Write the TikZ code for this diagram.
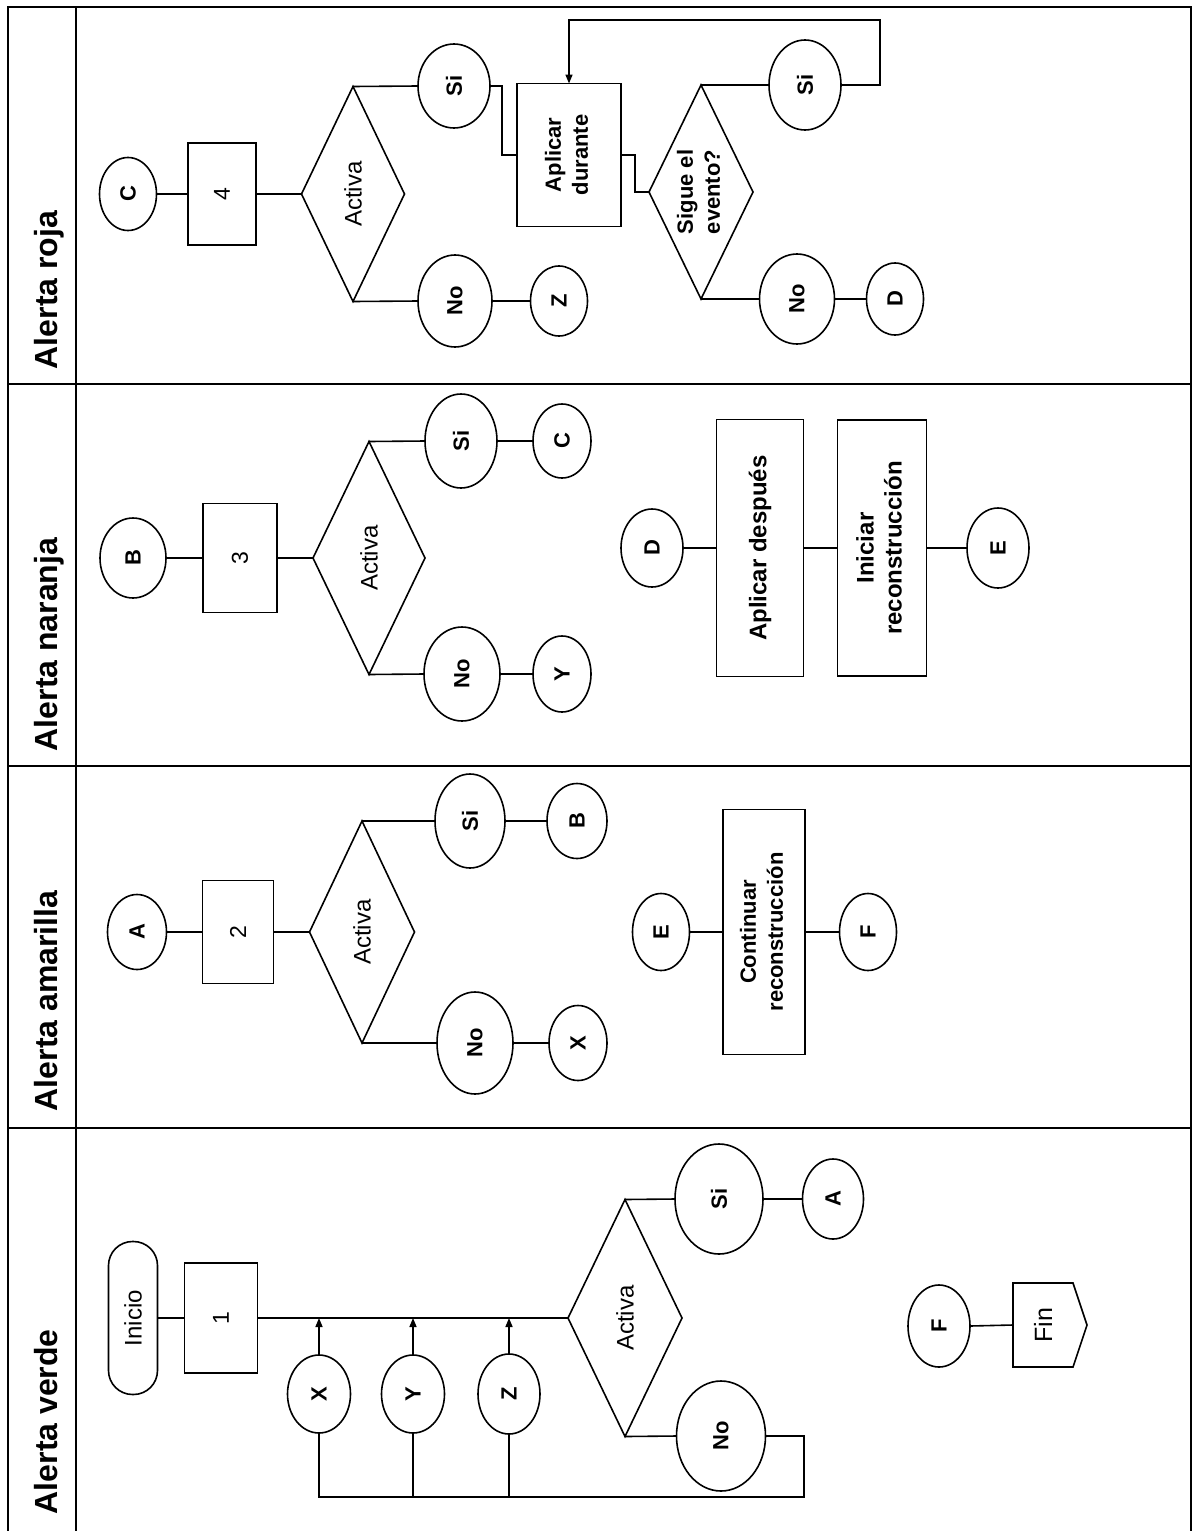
\documentclass[tikz,border=0pt]{standalone}
\usepackage{fontspec}
\setmainfont{Liberation Sans}
\usepackage{graphicx}
\usetikzlibrary{shapes.geometric,arrows.meta}
\newcommand{\rt}[1]{\rotatebox{90}{#1}}
\newcommand{\rtt}[2]{\rotatebox{90}{\begin{tabular}{@{}c@{}}#1\\#2\end{tabular}}}
\begin{document}
\begin{tikzpicture}[x=1pt,y=-1pt,line width=1.6pt,
  sz/.style 2 args={minimum width=#1pt,minimum height=#2pt},
  lbl/.style={font=\fontsize{22}{27}\selectfont\bfseries},
  biglbl/.style={font=\fontsize{24}{28}\selectfont\bfseries},
  ell/.style={draw,ellipse,inner sep=0pt,outer sep=0pt,lbl},
  proc/.style={draw,rectangle,inner sep=0pt,outer sep=0pt,lbl},
  num/.style={draw,rectangle,inner sep=0pt,outer sep=0pt,font=\fontsize{23}{27}\selectfont},
  dec/.style={draw,diamond,inner sep=0pt,outer sep=0pt,font=\fontsize{24}{28}\selectfont},
  lanetitle/.style={rotate=90,anchor=base west,inner sep=0pt,font=\fontsize{32}{38}\selectfont\bfseries},
  arr/.style={-{Triangle[length=9pt,width=7pt]}}]
\useasboundingbox (0,0) rectangle (1200,1531);
% frame
\draw (8,1531) -- (8,7) -- (1191,7) -- (1191,1531);
\draw (76,7) -- (76,1531);
\draw (8,384) -- (1191,384);
\draw (8,766) -- (1191,766);
\draw (8,1128) -- (1191,1128);
\node[lanetitle] (t1) at (57,370) {Alerta roja};
\node[lanetitle] (t2) at (57,752) {Alerta naranja};
\node[lanetitle] (t3) at (57,1112) {Alerta amarilla};
\node[lanetitle] (t4) at (57,1515) {Alerta verde};
% ---------- Alerta roja
\node[ell,sz={57}{73}] (rC) at (128,194) {\rt{C}};
\node[num,sz={68}{102}] (r4) at (222,194) {\rt{4}};
\node[dec,sz={103}{215}] (rAct) at (353,194) {\rt{Activa}};
\node[ell,sz={72}{84}] (rSi) at (454,86) {\rt{Si}};
\node[ell,sz={74}{92}] (rNo) at (455,301) {\rt{No}};
\node[ell,sz={57}{70}] (rZ) at (559,301) {\rt{Z}};
\node[proc,sz={104}{143}] (rApl) at (569,155) {\rtt{Aplicar}{durante}};
\node[dec,sz={104}{214},label={[lbl,inner sep=0pt]center:\rtt{Sigue el}{evento?}}] (rSig) at (701,192) {};
\node[ell,sz={72}{90}] (rSi2) at (805,85) {\rt{Si}};
\node[ell,sz={75}{90}] (rNo2) at (797,299) {\rt{No}};
\node[ell,sz={57}{72}] (rD) at (895,299) {\rt{D}};
\draw (rC.east) -- (r4.west);
\draw (r4.east) -- (rAct.west);
\draw (rAct.north) -- (rSi.west);
\draw (rAct.south) -- (rNo.west);
\draw (rNo.east) -- (rZ.west);
\coordinate (rj1) at (502,86);
\draw (rSi.east) -- (rj1) |- (rApl.west);
\coordinate (rj2) at (635,155);
\draw (rApl.east) -- (rj2) |- (rSig.west);
\draw (rSig.north) -- (rSi2.west);
\draw (rSig.south) -- (rNo2.west);
\draw (rNo2.east) -- (rD.west);
\coordinate (rl1) at (880,20);
\coordinate (rl2) at (569,20);
\draw[arr] (rSi2.east) -| (rl1) -- (rl2) -- (rApl.north);
% ---------- Alerta naranja
\node[ell,sz={66}{80}] (nB) at (133,558) {\rt{B}};
\node[num,sz={74}{109}] (n3) at (240,558) {\rt{3}};
\node[dec,sz={112}{233}] (nAct) at (369,558) {\rt{Activa}};
\node[ell,sz={72}{94}] (nSi) at (461,441) {\rt{Si}};
\node[ell,sz={58}{74}] (nC) at (562,441) {\rt{C}};
\node[ell,sz={76}{94}] (nNo) at (462,674) {\rt{No}};
\node[ell,sz={58}{76}] (nY) at (562,674) {\rt{Y}};
\node[ell,sz={62}{78}] (nD) at (652,548) {\rt{D}};
\node[proc,biglbl,sz={87}{257}] (nApl) at (760,548) {\rt{Aplicar después}};
\node[proc,biglbl,sz={89}{256}] (nIni) at (882,548) {\rtt{Iniciar}{reconstrucción}};
\node[ell,sz={62}{80}] (nE) at (998,548) {\rt{E}};
\draw (nB.east) -- (n3.west);
\draw (n3.east) -- (nAct.west);
\draw (nAct.north) -- (nSi.west);
\draw (nSi.east) -- (nC.west);
\draw (nAct.south) -- (nNo.west);
\draw (nNo.east) -- (nY.west);
\draw (nD.east) -- (nApl.west);
\draw (nApl.east) -- (nIni.west);
\draw (nIni.east) -- (nE.west);
% ---------- Alerta amarilla
\node[ell,sz={59}{75}] (aA) at (137,932) {\rt{A}};
\node[num,sz={71}{103}] (a2) at (238,932) {\rt{2}};
\node[dec,sz={105}{222}] (aAct) at (362,932) {\rt{Activa}};
\node[ell,sz={70}{94}] (aSi) at (470,821) {\rt{Si}};
\node[ell,sz={60}{75}] (aB) at (577,821) {\rt{B}};
\node[ell,sz={76}{102}] (aNo) at (475,1043) {\rt{No}};
\node[ell,sz={58}{75}] (aX) at (578,1043) {\rt{X}};
\node[ell,sz={57}{77}] (aE) at (661,932) {\rt{E}};
\node[proc,sz={82}{245}] (aCon) at (764,932) {\rtt{Continuar}{reconstrucción}};
\node[ell,sz={57}{77}] (aF) at (868,932) {\rt{F}};
\draw (aA.east) -- (a2.west);
\draw (a2.east) -- (aAct.west);
\draw (aAct.north) -- (aSi.west);
\draw (aSi.east) -- (aB.west);
\draw (aAct.south) -- (aNo.west);
\draw (aNo.east) -- (aX.west);
\draw (aE.east) -- (aCon.west);
\draw (aCon.east) -- (aF.west);
% ---------- Alerta verde
\node[draw,rounded corners=24pt,sz={49}{153},inner sep=0pt,outer sep=0pt,font=\fontsize{24}{28}\selectfont] (vIni) at (133,1318) {\rt{Inicio}};
\node[num,sz={73}{110}] (v1) at (221,1318) {\rt{1}};
\node[dec,sz={114}{237}] (vAct) at (625,1318) {\rt{Activa}};
\node[ell,sz={88}{110}] (vSi) at (719,1199) {\rt{Si}};
\node[ell,sz={61}{80}] (vA) at (833,1199) {\rt{A}};
\node[ell,sz={89}{110}] (vNo) at (721,1436) {\rt{No}};
\node[ell,sz={63}{78}] (vX) at (319,1394) {\rt{X}};
\node[ell,sz={63}{78}] (vY) at (413,1394) {\rt{Y}};
\node[ell,sz={62}{80}] (vZ) at (509,1394) {\rt{Z}};
\node[ell,sz={62}{82}] (vF) at (939,1326) {\rt{F}};
\node[inner sep=0pt,outer sep=0pt,sz={60}{84},font=\fontsize{25}{29}\selectfont] (vFin) at (1043,1325) {\rt{Fin}};
\draw (vFin.north west) -- (vFin.north east) -- ([xshift=14pt]vFin.east) -- (vFin.south east) -- (vFin.south west) -- cycle;
\draw (vIni.east) -- (v1.west);
\draw (v1.east) -- (vAct.west);
\draw[arr] (vX.north) -- (vX.north |- v1.east);
\draw[arr] (vY.north) -- (vY.north |- v1.east);
\draw[arr] (vZ.north) -- (vZ.north |- v1.east);
\draw (vAct.north) -- (vSi.west);
\draw (vSi.east) -- (vA.west);
\draw (vAct.south) -- (vNo.west);
\coordinate (vl1) at (804,1497);
\draw (vNo.east) -| (vl1) -- (vl1 -| vX.south) -- (vX.south);
\draw (vY.south) -- (vY.south |- vl1);
\draw (vZ.south) -- (vZ.south |- vl1);
\draw (vF.east) -- (vFin.west);
\end{tikzpicture}
\end{document}
